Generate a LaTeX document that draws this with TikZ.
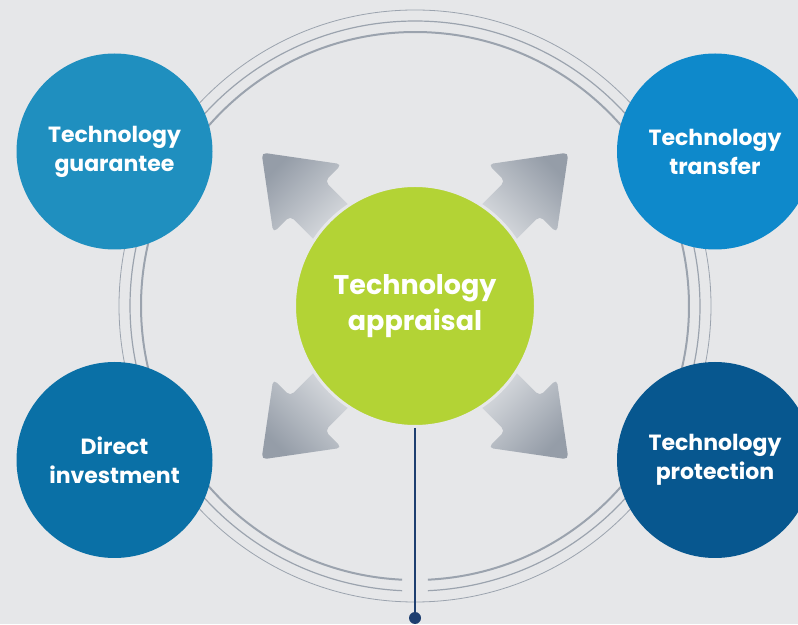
\documentclass[tikz,border=0pt]{standalone}
\usepackage{fontspec}
\setmainfont{Poppins}
\usetikzlibrary{positioning}

\definecolor{bgcol}{HTML}{E6E7E9}
\definecolor{ringgray}{HTML}{9BA3AE}
\definecolor{hubgreen}{HTML}{B3D335}
\definecolor{guarblue}{HTML}{1F8FBF}
\definecolor{transblue}{HTML}{0E89CB}
\definecolor{investblue}{HTML}{0A70A6}
\definecolor{protblue}{HTML}{07578F}
\definecolor{arrowdark}{HTML}{959DA8}
\definecolor{arrowlight}{HTML}{E3E5E8}
\definecolor{stemnavy}{HTML}{1E3F70}

\begin{document}
\begin{tikzpicture}[x=1pt,y=1pt,
    bubble/.style={circle,minimum size=196pt,inner sep=0pt,text=white,align=center,font=\bfseries\fontsize{22}{29}\selectfont},
    hub/.style={circle,fill=hubgreen,draw=bgcol,line width=3pt,minimum size=241pt,inner sep=0pt,text=white,align=center,font=\bfseries\fontsize{27}{36}\selectfont},
    dot/.style={circle,fill=stemnavy,minimum size=12pt,inner sep=0pt}]
  \useasboundingbox[fill=bgcol] (0,0) rectangle (798,624);
  \coordinate (c) at (415,318);
  % rings
  \draw[ringgray,line width=0.8pt] (c) circle[radius=296];
  \draw[ringgray,line width=1.2pt] (c) ++(-87.4:285) arc[start angle=-87.4,end angle=267.4,radius=285];
  \draw[ringgray,line width=2pt] (c) ++(-87.3:274) arc[start angle=-87.3,end angle=267.3,radius=274];
  % arrows
  \foreach \a/\s in {45/-45,135/45,225/135,315/225}{
    \begin{scope}[shift={(c)},rotate=\a]
      \shade[top color=arrowdark,bottom color=arrowlight,shading angle=\s,rounded corners=5pt]
        (100,-24.5) -- (152,-24.5) -- (152,-48.5) -- (217,0) -- (152,48.5) -- (152,24.5) -- (100,24.5) -- cycle;
    \end{scope}}
  \node[hub] (appraisal) at (c) {Technology\\appraisal};
  \node[bubble,fill=guarblue] (guarantee) at (114.5,472.5) {Technology\\guarantee};
  \node[bubble,fill=transblue] (transfer) at (715,472.5) {Technology\\transfer};
  \node[bubble,fill=investblue] (invest) at (114.5,164) {Direct\\investment};
  \node[bubble,fill=protblue] (protect) at (715,164) {Technology\\protection};
  \node[dot] (foot) at (415,6) {};
  \draw[stemnavy,line width=1.5pt] (appraisal.south) -- (foot);
\end{tikzpicture}
\end{document}
